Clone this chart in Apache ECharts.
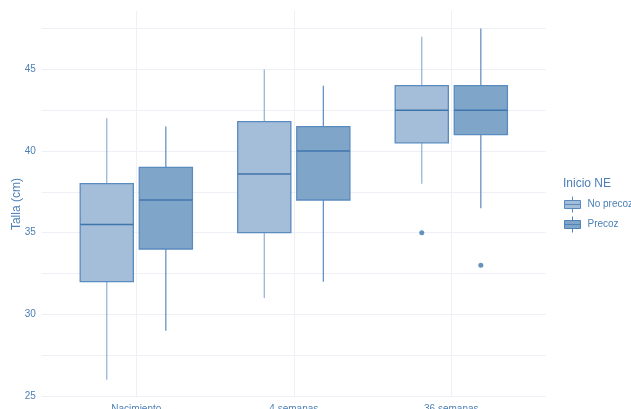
<!DOCTYPE html>
<html>
<head>
<meta charset="utf-8">
<script src="https://cdn.jsdelivr.net/npm/echarts@6/dist/echarts.min.js"></script>
<style>
  html, body { margin: 0; padding: 0; background: #fff; }
  #chart { width: 631px; height: 409px; }
</style>
</head>
<body>
<div id="chart"></div>
<script>
// Age points
const categories = ['Nacimiento', '4 semanas', '36 semanas'];
// Box statistics per age point: [min, Q1, median, Q3, max]
const noPrecozStats = [
  [26, 32, 35.5, 38, 42],
  [31, 35, 38.6, 41.8, 45],
  [38, 40.5, 42.5, 44, 47]
];
const precozStats = [
  [29, 34, 37, 39, 41.5],
  [32, 37, 40, 41.5, 44],
  [36.5, 41, 42.5, 44, 47.5]
];
// Outliers: [age point index, value]
const noPrecozOutliers = [[2, 35]];
const precozOutliers = [[2, 33]];
const yLabels = [25, 30, 35, 40, 45];
const yGrid = [25, 27.5, 30, 32.5, 35, 37.5, 40, 42.5, 45, 47.5];

const TEXT = '#4c7fb6';
const GRID = '#edf0f5';
const DODGE = 0.1875;
const BOX_W = 0.3375;

function boxRenderer(offset, fill, whisker) {
  return function (params, api) {
    const c = api.value(0) + offset;
    const lo = api.coord([c, api.value(1)]);
    const q1 = api.coord([c, api.value(2)]);
    const md = api.coord([c, api.value(3)]);
    const q3 = api.coord([c, api.value(4)]);
    const hi = api.coord([c, api.value(5)]);
    const hw = api.size([BOX_W, 0])[0] / 2;
    const x = q1[0];
    return {
      type: 'group',
      children: [
        { type: 'line', shape: { x1: x, y1: hi[1], x2: x, y2: q3[1] },
          style: { stroke: whisker, lineWidth: 1.2 } },
        { type: 'line', shape: { x1: x, y1: q1[1], x2: x, y2: lo[1] },
          style: { stroke: whisker, lineWidth: 1.2 } },
        { type: 'rect', shape: { x: x - hw, y: q3[1], width: hw * 2, height: q1[1] - q3[1] },
          style: { fill: fill, stroke: '#5a8bbf', lineWidth: 1.3 } },
        { type: 'line', shape: { x1: x - hw, y1: md[1], x2: x + hw, y2: md[1] },
          style: { stroke: '#3f75ad', lineWidth: 1.5 } }
      ]
    };
  };
}

function boxData(stats) {
  return stats.map((s, i) => [i + 1].concat(s));
}
function outlierData(list, offset) {
  return list.map(o => [o[0] + 1 + offset, o[1]]);
}

// Small boxplot glyph for the legend keys
const legendIcon = 'path://M8,0 L8,4 M0,4 L16,4 L16,12 L0,12 Z M0,8 L16,8 M8,12 L8,16';

const chart = echarts.init(document.getElementById('chart'), null, { renderer: 'canvas' });
chart.setOption({
  animation: false,
  backgroundColor: '#ffffff',
  textStyle: { fontFamily: 'Liberation Sans, Arial, sans-serif' },
  title: {
    text: 'Inicio NE',
    left: 558, top: 173,
    textStyle: { color: TEXT, fontSize: 12, fontWeight: 'normal' }
  },
  legend: {
    orient: 'vertical',
    left: 559, top: 191,
    itemWidth: 16, itemHeight: 16, itemGap: 3,
    textStyle: { color: TEXT, fontSize: 10, padding: [0, 0, 0, 2] },
    data: [
      { name: 'No precoz', icon: legendIcon,
        itemStyle: { color: '#a4bdd8', borderColor: '#5a8bbf', borderWidth: 1 } },
      { name: 'Precoz', icon: legendIcon,
        itemStyle: { color: '#7fa6c9', borderColor: '#4f82b7', borderWidth: 1 } }
    ]
  },
  grid: { left: 41.8, right: 85.2, top: 11, bottom: 11.8, outerBoundsMode: 'none', containLabel: false },
  xAxis: {
    type: 'value',
    min: 0.4, max: 3.6,
    axisLine: { show: false },
    axisTick: { show: false, customValues: [1, 2, 3] },
    splitLine: { show: true, lineStyle: { color: GRID, width: 1 } },
    axisLabel: {
      customValues: [1, 2, 3],
      color: TEXT, fontSize: 10, margin: 7,
      formatter: v => categories[Math.round(v) - 1]
    }
  },
  yAxis: {
    type: 'value',
    min: 24.925, max: 48.575,
    name: 'Talla (cm)',
    nameLocation: 'middle',
    nameGap: 19,
    nameMoveOverlap: false,
    nameTextStyle: { color: TEXT, fontSize: 12 },
    axisLine: { show: false },
    axisTick: { show: false, customValues: yGrid },
    splitLine: { show: true, lineStyle: { color: GRID, width: 1 } },
    axisLabel: { customValues: yLabels, color: TEXT, fontSize: 10, margin: 6 }
  },
  series: [
    {
      name: 'No precoz', type: 'custom',
      renderItem: boxRenderer(-DODGE, '#a4bdd8', '#8fb0d2'),
      itemStyle: { color: '#a4bdd8' },
      encode: { x: 0, y: [1, 2, 3, 4, 5] },
      data: boxData(noPrecozStats)
    },
    {
      name: 'Precoz', type: 'custom',
      renderItem: boxRenderer(DODGE, '#7fa6c9', '#5a8bbf'),
      itemStyle: { color: '#7fa6c9' },
      encode: { x: 0, y: [1, 2, 3, 4, 5] },
      data: boxData(precozStats)
    },
    {
      name: 'No precoz', type: 'scatter', symbolSize: 5,
      itemStyle: { color: '#3f75ad' },
      data: outlierData(noPrecozOutliers, -DODGE)
    },
    {
      name: 'Precoz', type: 'scatter', symbolSize: 5,
      itemStyle: { color: '#3f75ad' },
      data: outlierData(precozOutliers, DODGE)
    }
  ]
});
</script>
</body>
</html>
